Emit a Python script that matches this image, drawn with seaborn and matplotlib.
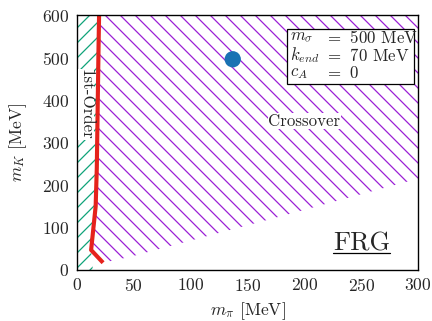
import matplotlib
matplotlib.use("Agg")
import matplotlib.pyplot as plt
import seaborn as sns
import pandas as pd
from matplotlib.patches import Rectangle

# ---- data ----
boundary_mpi = [19.5, 19.0, 17.5, 16.5, 12.5, 23.0]   # red first-order boundary (m_pi)
boundary_mK = [600, 520, 240, 150, 47, 17]             # red first-order boundary (m_K)
first_order_mK = [0, 47, 150, 240, 520, 600]
first_order_mpi = [14.0, 12.5, 16.5, 17.5, 19.0, 19.5]
cross_lower_mpi = [47, 108, 183, 225, 300]
cross_lower_mK = [31, 75, 129, 160, 215]
phys_mpi = [137]
phys_mK = [496]
xticks = [0, 50, 100, 150, 200, 250, 300]
yticks = [0, 100, 200, 300, 400, 500, 600]

sns.set_style("white")
plt.rcParams.update({
    "font.family": "serif",
    "font.serif": ["cmr10", "DejaVu Serif"],
    "mathtext.fontset": "cm",
    "axes.formatter.use_mathtext": True,
    "hatch.linewidth": 1.0,
    "axes.edgecolor": "black",
    "axes.linewidth": 1.1,
})

fig = plt.figure(figsize=(4.8, 321 / 90), dpi=90)
ax = fig.add_axes([0.178, 0.159, 0.968 - 0.178, 0.953 - 0.159])

purple = "#9b1fd6"
green = "#0fa37a"

# first-order region (green hatch)
ax.fill_betweenx(first_order_mK, 0, first_order_mpi, facecolor="none",
                 edgecolor=green, hatch="//", linewidth=0, zorder=1)

# crossover region (purple hatch)
poly_x = boundary_mpi + cross_lower_mpi + [300]
poly_y = boundary_mK + cross_lower_mK + [600]
ax.fill(poly_x, poly_y, facecolor="none", edgecolor=purple, hatch="\\\\",
        linewidth=0, zorder=1)

df_line = pd.DataFrame({"mpi": boundary_mpi, "mK": boundary_mK})
sns.lineplot(data=df_line, x="mpi", y="mK", sort=False, color="#e5221c",
             linewidth=3.3, ax=ax, zorder=3, solid_capstyle="butt")

df_pt = pd.DataFrame({"mpi": phys_mpi, "mK": phys_mK})
sns.scatterplot(data=df_pt, x="mpi", y="mK", color="#1a72b3", s=170,
                edgecolor="none", ax=ax, zorder=4)

ax.set_xlim(0, 300)
ax.set_ylim(0, 600)
ax.set_xticks(xticks)
ax.set_yticks(yticks)
ax.tick_params(axis="both", labelsize=14, length=0, pad=6)
ax.set_xlabel(r"$m_\pi$ [MeV]", fontsize=14, labelpad=5)
ax.set_ylabel(r"$m_K$ [MeV]", fontsize=14, labelpad=10)
for s in ax.spines.values():
    s.set_visible(True)
    s.set_zorder(5)

# labels
ax.text(200, 350, "Crossover", fontsize=13.5, ha="center", va="center", zorder=6,
        bbox=dict(facecolor="white", edgecolor="none", pad=0.2))
ax.text(8, 390, "1st-Order", fontsize=13.5, rotation=-90, ha="center",
        va="center", zorder=6,
        bbox=dict(facecolor="white", edgecolor="none", pad=0.2))

# parameter box
ax.add_patch(Rectangle((0.616, 0.729), 0.372, 0.216, transform=ax.transAxes,
                       facecolor="white", edgecolor="black", linewidth=1.0,
                       zorder=6))
rows = [(r"$m_\sigma$", r"$=$ 500 MeV", 0.912),
        (r"$k_{end}$", r"$=$ 70 MeV", 0.843),
        (r"$c_A$", r"$=$ 0", 0.772)]
for lab, val, yy in rows:
    ax.text(0.624, yy, lab, transform=ax.transAxes, fontsize=13.5,
            ha="left", va="center", zorder=7)
    ax.text(0.727, yy, val, transform=ax.transAxes, fontsize=13.5,
            ha="left", va="center", zorder=7)

# FRG label
ax.text(0.834, 0.105, "FRG", transform=ax.transAxes, fontsize=21,
        ha="center", va="center", zorder=7)
ax.plot([0.75, 0.918], [0.068, 0.068], transform=ax.transAxes, color="black",
        linewidth=1.0, zorder=7)

fig.savefig("out.png", dpi=90)
